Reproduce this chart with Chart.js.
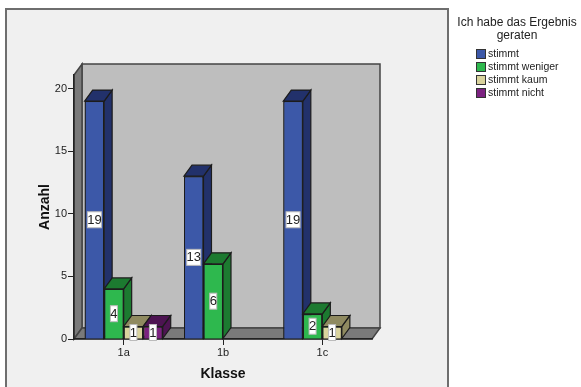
<!DOCTYPE html>
<html>
<head>
<meta charset="utf-8">
<style>
    html, body { margin: 0; padding: 0; background: #fff; }
    canvas { display: block; }
</style>
<script src="https://cdn.jsdelivr.net/npm/chart.js@4/dist/chart.umd.js"></script>
</head>
<body>
<canvas id="chart" width="581" height="387"></canvas>
<script>
const categories = ['1a', '1b', '1c'];
const stimmt = [19, 13, 19];
const stimmtWeniger = [4, 6, 2];
const stimmtKaum = [1, null, 1];
const stimmtNicht = [1, null, null];
const yTicks = [0, 5, 10, 15, 20];

const legendTitle = ['Ich habe das Ergebnis', 'geraten'];
const seriesNames = ['stimmt', 'stimmt weniger', 'stimmt kaum', 'stimmt nicht'];
const frontColors = ['#3c58a8', '#2eb84e', '#d9d39d', '#7b2180'];
const sideColors = ['#22316b', '#1c7a30', '#8f8a60', '#4d1452'];

const DEPTH_X = 8;
const DEPTH_Y = 11;
const EDGE = '#1c1c1c';
const FONT = '"Liberation Sans", Arial, sans-serif';

function polygon(ctx, points, fill) {
    ctx.beginPath();
    points.forEach(([x, y], i) => (i ? ctx.lineTo(x, y) : ctx.moveTo(x, y)));
    ctx.closePath();
    ctx.fillStyle = fill;
    ctx.fill();
    ctx.stroke();
}

// frame and the three walls sit behind the axes
const backdrop = {
    id: 'backdrop',
    beforeDraw(chart) {
        const { ctx, chartArea: { left, right, top, bottom } } = chart;
        ctx.save();
        ctx.fillStyle = '#f0f0f0';
        ctx.strokeStyle = '#6e6e6e';
        ctx.lineWidth = 2;
        ctx.fillRect(6, 9, 442, 380);
        ctx.strokeRect(6, 9, 442, 380);

        ctx.strokeStyle = '#444';
        ctx.lineWidth = 1.5;
        polygon(ctx, [[left + DEPTH_X, top - DEPTH_Y], [right + DEPTH_X, top - DEPTH_Y],
            [right + DEPTH_X, bottom - DEPTH_Y], [left + DEPTH_X, bottom - DEPTH_Y]], '#bebebe');
        polygon(ctx, [[left, top], [left + DEPTH_X, top - DEPTH_Y],
            [left + DEPTH_X, bottom - DEPTH_Y], [left, bottom]], '#7a7a7a');
        polygon(ctx, [[left, bottom], [left + DEPTH_X, bottom - DEPTH_Y],
            [right + DEPTH_X, bottom - DEPTH_Y], [right, bottom]], '#7a7a7a');
        ctx.restore();
    },
};

// top and side faces of each bar, then the value box on the front
const bars3d = {
    id: 'bars3d',
    afterDatasetsDraw(chart) {
        const { ctx } = chart;
        ctx.save();
        ctx.lineWidth = 1.2;
        ctx.strokeStyle = EDGE;
        categories.forEach((_, index) => {
            chart.data.datasets.forEach((dataset, datasetIndex) => {
                if (dataset.data[index] === null) return;
                const bar = chart.getDatasetMeta(datasetIndex).data[index];
                const l = bar.x - bar.width / 2;
                const r = bar.x + bar.width / 2;
                const side = sideColors[datasetIndex];
                polygon(ctx, [[r, bar.y], [r + DEPTH_X, bar.y - DEPTH_Y],
                    [r + DEPTH_X, bar.base - DEPTH_Y], [r, bar.base]], side);
                polygon(ctx, [[l, bar.y], [l + DEPTH_X, bar.y - DEPTH_Y],
                    [r + DEPTH_X, bar.y - DEPTH_Y], [r, bar.y]], side);
                bar.draw(ctx);
            });
        });

        ctx.font = `13px ${FONT}`;
        ctx.textAlign = 'center';
        ctx.textBaseline = 'middle';
        chart.data.datasets.forEach((dataset, datasetIndex) => {
            chart.getDatasetMeta(datasetIndex).data.forEach((bar, index) => {
                const value = dataset.data[index];
                if (value === null) return;
                const text = String(value);
                const w = text.length > 1 ? 14 : 7;
                const cy = (bar.y + bar.base) / 2;
                ctx.fillStyle = '#fff';
                ctx.strokeStyle = '#bbb';
                ctx.lineWidth = 1;
                ctx.fillRect(bar.x - w / 2, cy - 8, w, 16);
                ctx.strokeRect(bar.x - w / 2, cy - 8, w, 16);
                ctx.fillStyle = '#222';
                ctx.fillText(text, bar.x, cy + 0.5);
            });
        });
        ctx.restore();
    },
    afterDraw(chart) {
        const { ctx } = chart;
        ctx.save();
        ctx.fillStyle = '#222';
        ctx.textBaseline = 'middle';
        ctx.textAlign = 'center';
        ctx.font = `12px ${FONT}`;
        legendTitle.forEach((line, i) => ctx.fillText(line, 517, 23 + i * 13));

        ctx.textAlign = 'left';
        ctx.font = `10.5px ${FONT}`;
        ctx.strokeStyle = '#333';
        ctx.lineWidth = 1;
        seriesNames.forEach((name, i) => {
            const y = 49.5 + i * 13;
            ctx.fillStyle = frontColors[i];
            ctx.fillRect(476.5, y, 9, 9);
            ctx.strokeRect(476.5, y, 9, 9);
            ctx.fillStyle = '#222';
            ctx.fillText(name, 488, y + 5);
        });
        ctx.restore();
    },
};

const datasets = [stimmt, stimmtWeniger, stimmtKaum, stimmtNicht].map((data, i) => ({
    label: seriesNames[i],
    data,
    backgroundColor: frontColors[i],
    borderColor: EDGE,
    borderWidth: 1.2,
    barPercentage: 1,
    categoryPercentage: 0.786,
    inflateAmount: 0,
}));

new Chart(document.getElementById('chart').getContext('2d'), {
    type: 'bar',
    data: { labels: categories, datasets },
    plugins: [backdrop, bars3d],
    options: {
        responsive: false,
        animation: false,
        events: [],
        layout: { padding: { top: 75, right: 209, left: 0, bottom: 0 } },
        plugins: { legend: { display: false }, tooltip: { enabled: false } },
        scales: {
            x: {
                afterFit(axis) {
                    axis.height = 48;
                },
                grid: { offset: false, drawOnChartArea: false, tickLength: 6, tickColor: '#222' },
                border: { color: '#222', width: 1.5 },
                ticks: { color: '#222', font: { family: FONT, size: 11 }, padding: 1, maxRotation: 0 },
                title: {
                    display: true,
                    text: 'Klasse',
                    color: '#111',
                    font: { family: FONT, size: 14, weight: 'bold' },
                    padding: { top: 0, bottom: 4 },
                },
            },
            y: {
                min: 0,
                max: 21.08,
                afterFit(axis) {
                    axis.width = 74;
                },
                afterBuildTicks(axis) {
                    axis.ticks = yTicks.map((value) => ({ value }));
                },
                grid: { drawOnChartArea: false, tickLength: 6, tickColor: '#222' },
                border: { color: '#222', width: 1.5 },
                ticks: { color: '#222', font: { family: FONT, size: 11 }, padding: 1 },
                title: {
                    display: true,
                    text: 'Anzahl',
                    color: '#111',
                    font: { family: FONT, size: 14, weight: 'bold' },
                    padding: { top: 37, bottom: 0 },
                },
            },
        },
    },
});
</script>
</body>
</html>
